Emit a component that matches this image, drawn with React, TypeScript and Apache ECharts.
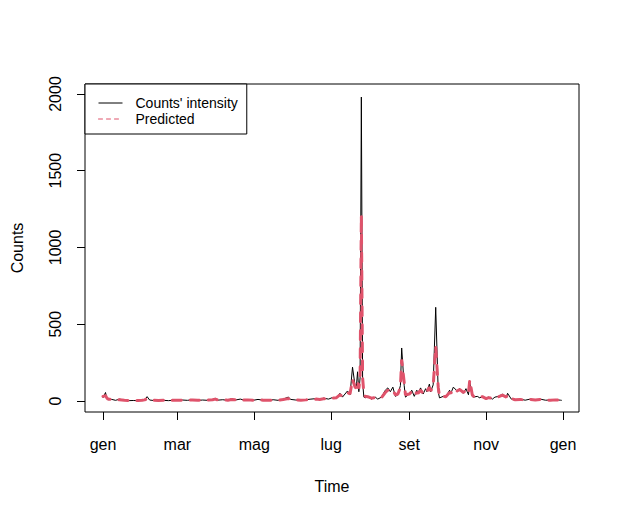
import React, { useEffect, useRef } from "react";
import * as echarts from "echarts";

// Day of year (0 = 1 January) of each reading
const days = [
  0, 2, 3, 4, 7, 10, 13, 17, 20, 24,
  28, 31, 33, 35, 37, 40, 44, 48, 52, 56,
  60, 63, 67, 71, 75, 79, 83, 87, 89, 91,
  95, 99, 102, 105, 109, 112, 115, 119, 123, 127,
  131, 135, 139, 143, 147, 149, 153, 157, 161, 165,
  169, 172, 175, 179, 182, 185, 188, 190, 194, 196,
  198, 200, 201, 202, 203, 204, 205, 206, 207, 208,
  210, 213, 216, 218, 221, 224, 226, 228, 230, 232,
  234, 236, 237, 239, 240, 243, 245, 247, 249, 250,
  252, 254, 256, 257, 259, 260, 262, 264, 266, 267,
  270, 272, 275, 276, 278, 281, 283, 286, 288, 290,
  291, 293, 294, 297, 299, 301, 304, 306, 309, 311,
  314, 317, 320, 321, 324, 327, 331, 335, 339, 343,
  347, 351, 355, 359, 363, 364,
];

const counts = [
  20, 55, 15, 8, 10, 4, 12, 5, 2, 3,
  2, 5, 8, 28, 6, 3, 2, 4, 2, 5,
  3, 6, 4, 8, 3, 6, 4, 10, 18, 5,
  8, 4, 15, 6, 12, 5, 8, 4, 10, 5,
  3, 8, 4, 12, 25, 10, 6, 4, 8, 12,
  15, 10, 18, 12, 22, 15, 50, 25, 65, 40,
  220, 100, 90, 190, 60, 150, 1980, 120, 25, 20,
  30, 12, 25, 12, 25, 70, 85, 60, 90, 30,
  40, 100, 345, 100, 25, 45, 70, 30, 70, 50,
  85, 45, 80, 60, 110, 60, 105, 610, 60, 20,
  30, 25, 70, 50, 90, 65, 80, 50, 80, 40,
  130, 30, 25, 30, 20, 30, 12, 25, 12, 25,
  30, 45, 20, 50, 12, 5, 12, 5, 12, 5,
  12, 5, 5, 8, 5, 4,
];

const predicted = [
  30, 35, 20, 12, 9, 6, 8, 5, 3, 3,
  3, 4, 7, 15, 8, 4, 3, 4, 3, 4,
  4, 5, 5, 6, 4, 5, 5, 8, 12, 7,
  7, 5, 10, 7, 9, 6, 7, 5, 8, 5,
  4, 6, 5, 9, 15, 10, 7, 5, 7, 10,
  12, 10, 14, 12, 18, 20, 40, 30, 55, 45,
  140, 90, 85, 130, 80, 150, 1210, 150, 50, 30,
  28, 18, 22, 15, 22, 55, 70, 60, 70, 40,
  45, 90, 270, 120, 40, 45, 60, 35, 55, 50,
  70, 50, 70, 60, 90, 65, 95, 355, 90, 30,
  30, 28, 55, 50, 80, 65, 75, 55, 70, 50,
  135, 40, 30, 28, 22, 28, 15, 22, 15, 22,
  28, 38, 25, 40, 15, 8, 10, 6, 10, 6,
  10, 6, 5, 7, 5, 4,
];

const monthTickDays = [0, 59, 120, 181, 243, 304, 365];
const monthTickLabels = ["gen", "mar", "mag", "lug", "set", "nov", "gen"];
const yTicks = [0, 500, 1000, 1500, 2000];

const FONT = "Liberation Sans, Arial, Helvetica, sans-serif";

export default function App() {
  const ref = useRef<HTMLDivElement>(null);

  useEffect(() => {
    document.body.style.margin = "0";
    const chart = echarts.init(ref.current!, null, { renderer: "svg" });
    const countsData = days.map((d, i) => [d, counts[i]]);
    const predData = days.map((d, i) => [d, predicted[i]]);
    chart.setOption({
      animation: false,
      backgroundColor: "#ffffff",
      textStyle: { fontFamily: FONT },
      grid: {
        show: true,
        left: 85,
        top: 84,
        width: 494,
        height: 328,
        borderColor: "#000",
        borderWidth: 1,
        backgroundColor: "transparent",
      },
      legend: {
        orient: "vertical",
        left: 85,
        top: 84,
        backgroundColor: "#fff",
        borderColor: "#000",
        borderWidth: 1,
        borderRadius: 0,
        padding: [12, 9, 8, 13],
        itemWidth: 24,
        itemHeight: 14,
        itemGap: 2,
        itemStyle: { opacity: 0 },
        textStyle: {
          fontFamily: FONT,
          fontSize: 14,
          color: "#000",
          padding: [0, 0, 0, 8],
        },
        data: [
          {
            name: "Counts' intensity",
            itemStyle: { opacity: 0 },
            lineStyle: { width: 1, color: "#000", type: "solid" },
          },
          {
            name: "Predicted",
            itemStyle: { opacity: 0 },
            lineStyle: { width: 1, color: "#DF536B", type: [4, 4] },
          },
        ],
      },
      xAxis: {
        type: "value",
        min: -14.28,
        max: 377.7,
        name: "Time",
        nameLocation: "middle",
        nameGap: 66,
        nameTextStyle: { fontFamily: FONT, fontSize: 16, color: "#000" },
        axisLine: { show: false, onZero: false },
        splitLine: { show: false },
        axisTick: {
          show: true,
          length: 8,
          lineStyle: { color: "#000", width: 1 },
          customValues: monthTickDays,
        },
        axisLabel: {
          customValues: monthTickDays,
          margin: 24,
          fontFamily: FONT,
          fontSize: 16,
          color: "#000",
          formatter: (v: number) => {
            const i = monthTickDays.indexOf(Math.round(v));
            return i >= 0 ? monthTickLabels[i] : "";
          },
        },
      },
      yAxis: {
        type: "value",
        min: -72,
        max: 2065,
        name: "Counts",
        nameLocation: "middle",
        nameRotate: 90,
        nameGap: 60,
        nameTextStyle: { fontFamily: FONT, fontSize: 16, color: "#000" },
        axisLine: { show: false, onZero: false },
        splitLine: { show: false },
        axisTick: {
          show: true,
          length: 8,
          lineStyle: { color: "#000", width: 1 },
          customValues: yTicks,
        },
        axisLabel: {
          customValues: yTicks,
          rotate: 90,
          margin: 22,
          fontFamily: FONT,
          fontSize: 16,
          color: "#000",
          formatter: (v: number) => String(Math.round(v)),
        },
      },
      series: [
        {
          type: "line",
          name: "Counts' intensity",
          data: countsData,
          symbol: "none",
          showSymbol: false,
          lineStyle: { color: "#000", width: 1 },
          itemStyle: { color: "#000" },
          z: 2,
        },
        {
          type: "line",
          name: "Predicted",
          data: predData,
          symbol: "none",
          showSymbol: false,
          lineStyle: { color: "#DF536B", width: 3, type: [9, 9], cap: "round" },
          itemStyle: { color: "#DF536B" },
          z: 3,
        },
      ],
    });
    return () => chart.dispose();
  }, []);

  return (
    <div
      ref={ref}
      style={{ position: "fixed", left: 0, top: 0, width: 623, height: 519, background: "#fff" }}
    />
  );
}
